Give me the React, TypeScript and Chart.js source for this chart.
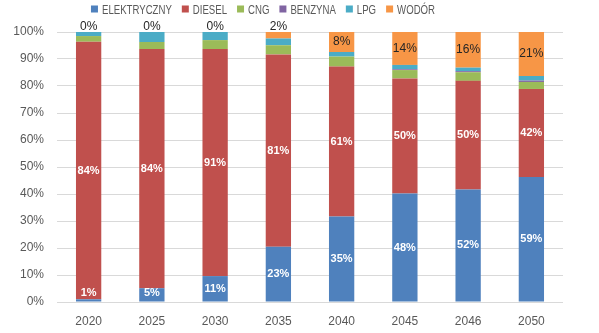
import React, { useEffect, useRef } from "react";
import { Chart, registerables } from "chart.js";

Chart.register(...registerables);

const categories = ["2020", "2025", "2030", "2035", "2040", "2045", "2046", "2050"];

const seriesNames = ["ELEKTRYCZNY", "DIESEL", "CNG", "BENZYNA", "LPG", "WODÓR"];
const seriesColors = ["#4F81BD", "#C0504D", "#9BBB59", "#8064A2", "#4BACC6", "#F79646"];

const elektryczny = [1.0, 5.1, 9.6, 20.5, 31.7, 40.2, 41.7, 46.3];
const diesel = [95.4, 88.6, 84.1, 71.2, 55.5, 42.6, 40.2, 32.6];
const cng = [2.1, 2.6, 3.3, 3.4, 3.7, 3.1, 3.2, 2.6];
const benzyna = [0, 0, 0, 0, 0, 0.3, 0.4, 0.5];
const lpg = [1.5, 3.7, 3.0, 2.5, 1.7, 1.6, 1.3, 1.7];
const wodor = [0, 0, 0, 2.4, 7.4, 12.2, 13.2, 16.3];

const elLabels = ["1%", "5%", "11%", "23%", "35%", "48%", "52%", "59%"];
const dieselLabels = ["84%", "84%", "91%", "81%", "61%", "50%", "50%", "42%"];
const wodorLabels = ["0%", "0%", "0%", "2%", "8%", "14%", "16%", "21%"];

const yTicks = [0, 10, 20, 30, 40, 50, 60, 70, 80, 90, 100];

const labelPlugin = {
  id: "segLabels",
  afterDatasetsDraw(chart: any) {
    const ctx = chart.ctx;
    ctx.save();
    ctx.textAlign = "center";
    ctx.textBaseline = "middle";
    const draw = (dsIndex: number, labels: string[], mode: string) => {
      const meta = chart.getDatasetMeta(dsIndex);
      meta.data.forEach((bar: any, i: number) => {
        const top = Math.min(bar.y, bar.base);
        const bottom = Math.max(bar.y, bar.base);
        let cy = (top + bottom) / 2;
        if (mode === "bottom") cy = Math.min(cy, bottom - 9);
        if (mode === "top") {
          if (bottom - top < 14) cy = top - 5;
          ctx.font = "12px 'Liberation Sans', sans-serif";
          ctx.fillStyle = "#262626";
        } else {
          ctx.font = "bold 11px 'Liberation Sans', sans-serif";
          ctx.fillStyle = "#ffffff";
        }
        ctx.fillText(labels[i], bar.x, cy);
      });
    };
    draw(0, elLabels, "bottom");
    draw(1, dieselLabels, "mid");
    draw(5, wodorLabels, "top");
    ctx.restore();
  },
};

const legendPlugin = {
  id: "customLegend",
  afterDraw(chart: any) {
    const ctx = chart.ctx;
    const sx = 0.74;
    const box = 7;
    const gapText = 4;
    const gapItem = 10;
    const centerX = 263;
    const cy = 10;
    ctx.save();
    ctx.font = "13px 'Liberation Sans', sans-serif";
    const widths = seriesNames.map((n) => ctx.measureText(n).width * sx);
    const total =
      widths.reduce((a, w) => a + box + gapText + w, 0) + gapItem * (seriesNames.length - 1);
    let x = centerX - total / 2;
    ctx.textBaseline = "middle";
    ctx.textAlign = "left";
    seriesNames.forEach((n, i) => {
      ctx.fillStyle = seriesColors[i];
      ctx.fillRect(x, cy - 4.5, box, box);
      x += box + gapText;
      ctx.save();
      ctx.translate(x, cy);
      ctx.scale(sx, 1);
      ctx.fillStyle = "#595959";
      ctx.fillText(n, 0, 0);
      ctx.restore();
      x += widths[i] + gapItem;
    });
    ctx.restore();
  },
};

export default function App() {
  const ref = useRef<HTMLCanvasElement>(null);
  useEffect(() => {
    if (!ref.current) return;
    const series = [elektryczny, diesel, cng, benzyna, lpg, wodor];
    const chart = new Chart(ref.current, {
      type: "bar",
      data: {
        labels: categories,
        datasets: series.map((data, i) => ({
          label: seriesNames[i],
          data,
          backgroundColor: seriesColors[i],
          borderWidth: 0,
          categoryPercentage: 0.8,
          barPercentage: 0.5,
        })),
      },
      options: {
        animation: false,
        responsive: false,
        devicePixelRatio: 1,
        layout: { padding: { left: 0, right: 36, top: 32, bottom: 0 } },
        plugins: {
          tooltip: { enabled: false },
          legend: { display: false },
        },
        scales: {
          x: {
            stacked: true,
            grid: { display: false, drawTicks: false },
            border: { display: false },
            ticks: {
              color: "#595959",
              padding: 12,
              font: { family: "'Liberation Sans', sans-serif", size: 12 },
            },
            afterFit: (s: any) => {
              s.height = 31;
            },
          },
          y: {
            stacked: true,
            min: 0,
            max: 100,
            afterBuildTicks: (s: any) => {
              s.ticks = yTicks.map((v) => ({ value: v }));
            },
            grid: { color: "#D9D9D9", drawTicks: false },
            border: { display: false },
            ticks: {
              color: "#595959",
              padding: 13,
              font: { family: "'Liberation Sans', sans-serif", size: 12 },
              callback: (v: any) => v + "%",
            },
            afterFit: (s: any) => {
              s.width = 57;
            },
          },
        },
      },
      plugins: [labelPlugin, legendPlugin],
    } as any);
    return () => chart.destroy();
  }, []);
  return (
    <div style={{ position: "fixed", left: 0, top: 0, width: 599, height: 333, background: "#fff" }}>
      <canvas ref={ref} width={599} height={333} style={{ display: "block" }} />
    </div>
  );
}
